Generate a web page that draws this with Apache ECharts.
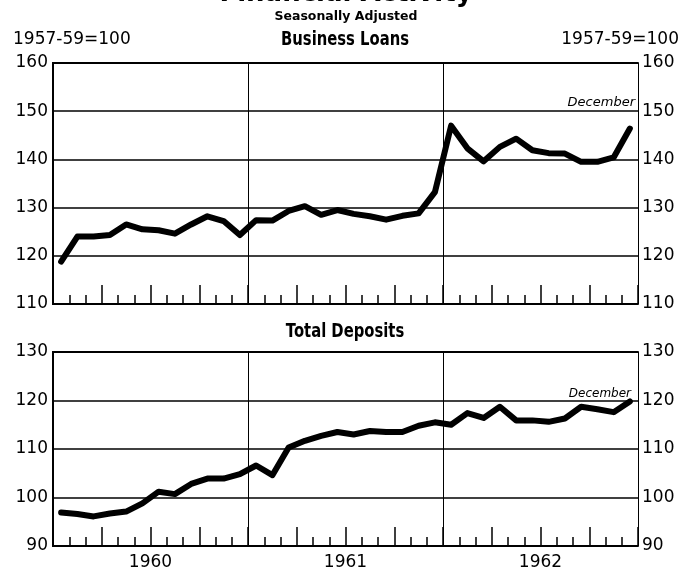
<!DOCTYPE html>
<html>
<head>
<meta charset="utf-8">
<script src="https://cdn.jsdelivr.net/npm/echarts@6/dist/echarts.min.js"></script>
<style>
  html, body { margin: 0; padding: 0; background: #fff; }
  #chart { width: 692px; height: 571px; }
</style>
</head>
<body>
<div id="chart"></div>
<script>
// monthly, Jan 1960 .. Dec 1962 (1957-59=100, seasonally adjusted)
const businessLoans = [
  118.8, 124.0, 124.0, 124.3, 126.5, 125.5, 125.3, 124.6, 126.5, 128.2, 127.2, 124.3,
  127.4, 127.3, 129.3, 130.3, 128.5, 129.5, 128.7, 128.2, 127.5, 128.3, 128.8, 133.2,
  147.0, 142.3, 139.6, 142.6, 144.3, 141.9, 141.3, 141.2, 139.5, 139.5, 140.4, 146.4
];
const totalDeposits = [
  96.9, 96.6, 96.1, 96.7, 97.1, 98.8, 101.2, 100.7, 102.8, 103.9, 103.9, 104.8,
  106.6, 104.6, 110.3, 111.7, 112.7, 113.5, 113.0, 113.7, 113.5, 113.5, 114.8, 115.5,
  115.0, 117.4, 116.4, 118.7, 115.9, 115.9, 115.6, 116.3, 118.7, 118.2, 117.6, 119.8
];
const years = ['1960', '1961', '1962'];
const loanTicks = [110, 160, 10];     // min, max, step
const depositTicks = [90, 130, 10];

const FONT = "'DejaVu Sans', sans-serif";

// month index -> point at middle of the month
const toPoints = arr => arr.map((v, i) => [i + 0.5, v]);

function monthAxis(gridIndex, showYears) {
  return {
    type: 'value', gridIndex, min: 0, max: 36, interval: 3, position: 'bottom',
    axisLine: { show: true, lineStyle: { color: '#000', width: 2 } },
    axisTick: { show: true, inside: true, length: 19, lineStyle: { color: '#000', width: 1.5 } },
    minorTick: { show: true, splitNumber: 3, length: 9, lineStyle: { color: '#000', width: 1.5 } },
    splitLine: { show: false },
    axisLabel: {
      show: showYears, margin: 8, color: '#000', fontFamily: FONT, fontSize: 17,
      formatter: v => (v % 12 === 6 ? years[(v - 6) / 12] : '')
    }
  };
}

function yearAxis(gridIndex) {
  return {
    type: 'value', gridIndex, min: 0, max: 36, interval: 12, position: 'top',
    axisLine: { show: true, lineStyle: { color: '#000', width: 2 } },
    axisTick: { show: false }, axisLabel: { show: false },
    splitLine: { show: true, lineStyle: { color: '#000', width: 1 } }
  };
}

function valueAxis(gridIndex, ticks, side) {
  return {
    type: 'value', gridIndex, min: ticks[0], max: ticks[1], interval: ticks[2], position: side,
    axisLine: { show: true, lineStyle: { color: '#000', width: 2 } },
    axisTick: { show: false },
    splitLine: { show: side === 'left', lineStyle: { color: '#000', width: 1.5 } },
    axisLabel: { margin: side === 'left' ? 5 : 4, color: '#000', fontFamily: FONT, fontSize: 17 }
  };
}

function lineSeries(data, axisIdx) {
  return {
    type: 'line', data: toPoints(data), xAxisIndex: axisIdx, yAxisIndex: axisIdx,
    symbol: 'none', lineStyle: { color: '#000', width: 6, join: 'round', cap: 'round' },
    z: 5, silent: true
  };
}

// condensed panel headings (squeezed horizontally)
function heading(text, x, y) {
  return {
    type: 'text', x, y, scaleX: 0.74,
    style: { text, font: 'bold 20px ' + FONT, fill: '#000', align: 'center', verticalAlign: 'middle' }
  };
}

const chart = echarts.init(document.getElementById('chart'));
chart.setOption({
  animation: false,
  backgroundColor: '#fff',
  grid: [
    { left: 53, right: 54, top: 63, height: 241 },
    { left: 53, right: 54, top: 352, height: 195 }
  ],
  xAxis: [monthAxis(0, false), monthAxis(1, true), yearAxis(0), yearAxis(1)],
  yAxis: [
    valueAxis(0, loanTicks, 'left'), valueAxis(1, depositTicks, 'left'),
    valueAxis(0, loanTicks, 'right'), valueAxis(1, depositTicks, 'right')
  ],
  series: [lineSeries(businessLoans, 0), lineSeries(totalDeposits, 1)],
  graphic: [
    { type: 'text', left: 'center', top: -19, style: { text: 'Financial Activity', font: 'bold 26px ' + FONT, fill: '#000' } },
    { type: 'text', x: 346, y: 17, style: { text: 'Seasonally Adjusted', font: 'bold 12.5px ' + FONT, fill: '#000', align: 'center', verticalAlign: 'middle' } },
    heading('Business Loans', 345, 40),
    heading('Total Deposits', 345, 332),
    { type: 'text', x: 13, y: 40, style: { text: '1957-59=100', font: '17px ' + FONT, fill: '#000', align: 'left', verticalAlign: 'middle' } },
    { type: 'text', x: 679, y: 40, style: { text: '1957-59=100', font: '17px ' + FONT, fill: '#000', align: 'right', verticalAlign: 'middle' } },
    { type: 'text', x: 635, y: 103, style: { text: 'December', font: 'italic 13px ' + FONT, fill: '#000', align: 'right', verticalAlign: 'middle' } },
    { type: 'text', x: 631, y: 394, style: { text: 'December', font: 'italic 12px ' + FONT, fill: '#000', align: 'right', verticalAlign: 'middle' } }
  ]
});
</script>
</body>
</html>
